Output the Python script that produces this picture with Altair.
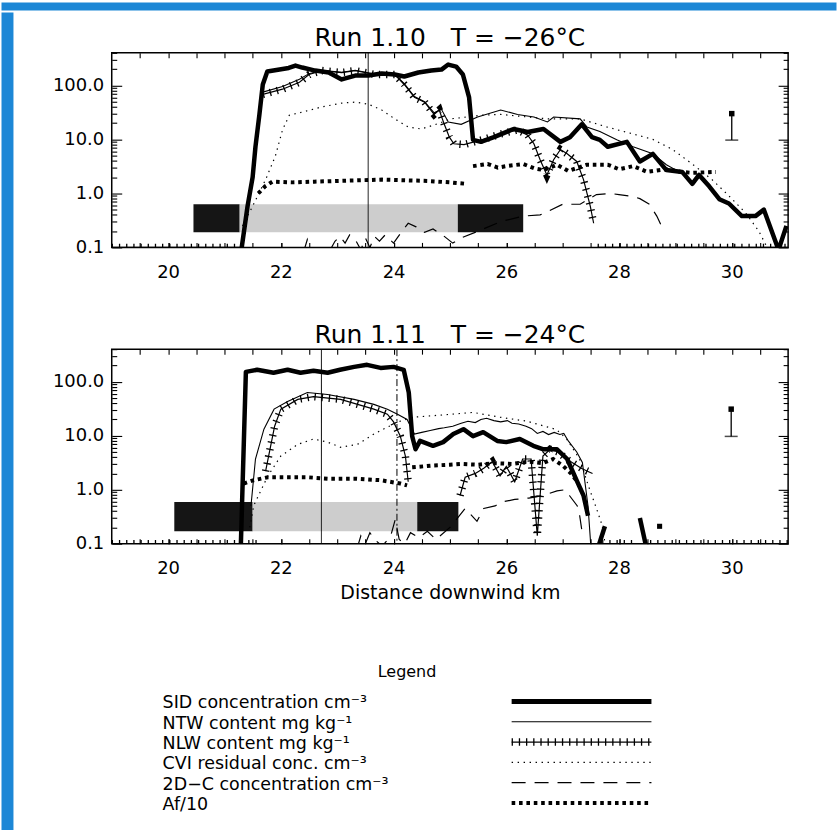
import altair as alt
import pandas as pd

FONT = "DejaVu Sans"
INK = "#000000"
BORDER_BLUE = "#1c87d6"
BOX_DARK = "#151515"
BOX_LIGHT = "#cdcdcd"

PLOT_W = 678
PLOT_H = 195

# layout gaps (pixels)
GAP_TOP = 12
GAP_MID = 37
GAP_LEGEND = 58
LEFT_GAP = 37
LEGEND_INDENT = 49

KM_RANGE = [19, 31]
CONC_RANGE = [0.1, 400]
KM_LABELS = [20, 22, 24, 26, 28, 30]
KM_TICKS = [19.5, 20.0, 20.5, 21.0, 21.5, 22.0, 22.5, 23.0, 23.5, 24.0, 24.5, 25.0,
            25.5, 26.0, 26.5, 27.0, 27.5, 28.0, 28.5, 29.0, 29.5, 30.0, 30.5]
DECADE_TICKS = [0.1, 1, 10, 100]
SUBDECADE_TICKS = [0.2, 0.3, 0.4, 0.5, 0.6, 0.7, 0.8, 0.9, 2, 3, 4, 5, 6, 7, 8, 9,
                   20, 30, 40, 50, 60, 70, 80, 90, 200, 300, 400]

# ---------------- Run 1.10, T = -26 C ----------------
R10_SID_X = [21.30, 21.41, 21.50, 21.55, 21.62, 21.68, 21.76, 22.14, 22.26, 22.38, 22.61, 22.85,
             23.08, 23.32, 23.55, 23.79, 24.02, 24.19, 24.44, 24.67, 24.85, 24.97, 25.11, 25.23,
             25.34, 25.41, 25.55, 25.78, 26.13, 26.38, 26.66, 26.96, 27.13, 27.34, 27.52, 27.66,
             27.80, 28.14, 28.37, 28.60, 28.84, 29.12, 29.30, 29.42, 29.60, 29.78, 29.95, 30.18,
             30.42, 30.57, 30.83, 30.97]
R10_SID = [0.09, 0.58, 2.0, 7.3, 29, 104, 181, 210, 233, 214, 188, 173,
           129, 152, 152, 166, 159, 146, 173, 188, 196, 243, 223, 159,
           60, 9.8, 9.0, 11, 15.6, 13.7, 15.6, 9.0, 11, 19, 11, 9.8,
           7.3, 9.0, 3.9, 5.4, 2.7, 2.5, 1.5, 2.2, 1.35, 0.78, 0.65, 0.38,
           0.38, 0.5, 0.09, 0.25]

R10_NTW_X = [21.68, 22.03, 22.33, 22.50, 22.73, 23.08, 23.32, 23.67, 24.02, 24.19, 24.37, 24.55,
             24.72, 24.85, 24.97, 25.20, 25.49, 25.90, 26.20, 26.49, 26.73, 26.84, 27.31, 27.43,
             27.66, 27.96, 28.25, 28.60, 28.84, 29.10, 29.30]
R10_NTW = [75, 95, 130, 165, 190, 175, 190, 162, 160, 108, 62, 50,
           31, 36, 21, 19, 26, 35, 29, 26, 21, 26, 24, 17,
           14, 9.8, 7.3, 5.4, 3.4, 2.4, 1.6]

R10_NLW_X = [21.68, 22.03, 22.33, 22.50, 22.73, 23.08, 23.32, 23.67, 24.02, 24.19, 24.37, 24.55,
             24.72, 24.81, 24.90, 24.99, 25.07, 25.25, 25.43, 25.60, 25.90, 26.20, 26.38, 26.49,
             26.60, 26.72, 26.84, 26.96, 27.08, 27.25, 27.37, 27.49, 27.55]
R10_NLW = [68, 85, 114, 159, 188, 173, 188, 159, 159, 104, 60, 49,
           29, 35, 19, 11, 8.3, 8.0, 9.0, 10, 12.6, 15, 12, 8.3,
           4.2, 2.2, 4.2, 6.5, 5.4, 3.9, 1.8, 0.58, 0.28]
# stretches where NLW sits below the axis floor
R10_NLW_FLOOR_FROM = [19.0, 27.62]
R10_NLW_FLOOR_TO = [21.35, 31.0]

R10_CVI_X = [21.32, 21.50, 21.73, 21.90, 22.03, 22.15, 22.38, 22.73, 23.08, 23.32, 23.55, 23.79,
             24.02, 24.26, 24.49, 24.72, 25.02, 25.55, 25.90, 26.38, 26.73, 27.31, 27.78, 28.25,
             28.60, 28.95, 29.30, 29.65, 29.95, 30.25, 30.48, 30.65]
R10_CVI = [0.25, 0.58, 1.8, 4.8, 15, 28, 32, 40, 47, 49, 45, 35,
           24, 17, 15.6, 18.5, 24, 28, 29, 26, 24, 24, 17, 12.6,
           10, 6.5, 3.5, 1.8, 0.9, 0.43, 0.2, 0.09]

R10_2DC_X = [22.40, 22.47, 22.55, 22.85, 22.96, 23.05, 23.14, 23.22, 23.32, 23.42, 23.50, 23.58,
             23.66, 23.75, 23.85, 24.00, 24.15, 24.26, 24.40, 24.55, 24.70, 24.90, 25.05, 25.20,
             25.50, 25.90, 26.30, 26.60, 26.73, 27.00, 27.31, 27.60, 27.84, 28.00, 28.25, 28.37,
             28.54, 28.67, 28.77]
R10_2DC = [0.08, 0.14, 0.08, 0.08, 0.13, 0.16, 0.12, 0.17, 0.14, 0.09, 0.15, 0.1,
           0.16, 0.13, 0.17, 0.12, 0.2, 0.28, 0.24, 0.19, 0.22, 0.16, 0.12, 0.15,
           0.2, 0.3, 0.38, 0.4, 0.46, 0.63, 0.63, 0.95, 1.0, 0.95, 0.88, 0.8,
           0.63, 0.38, 0.23]

R10_AF_A_X = [21.60, 21.72, 21.85, 22.2, 22.6, 23.0, 23.4, 23.8, 24.2, 24.6, 25.0, 25.3]
R10_AF_A = [1.0, 1.35, 1.65, 1.6, 1.65, 1.7, 1.75, 1.8, 1.75, 1.7, 1.6, 1.5]
R10_AF_B_X = [25.41, 25.67, 25.85, 26.0, 26.3, 26.5, 26.66, 26.9, 27.1, 27.43, 27.8, 28.0,
              28.25, 28.5, 28.84, 29.1, 29.3, 29.72]
R10_AF_B = [3.2, 3.5, 3.0, 3.2, 3.5, 2.9, 2.7, 3.4, 2.6, 3.4, 3.4, 2.8,
            3.2, 2.5, 2.8, 2.5, 2.4, 2.5]

R10_BOX_FROM = [20.45, 21.27, 25.14]
R10_BOX_TO = [21.27, 25.14, 26.30]
R10_BOX_SHADE = ["dark", "light", "dark"]
R10_BOX_LO = 0.19
R10_BOX_HI = 0.63

R10_MARKER_KM = [23.55]
R10_MARKER_STYLE = ["solid"]

R10_ERR_KM = [30.0]
R10_ERR_LO = [9.7]
R10_ERR_HI = [30]

# ---------------- Run 1.11, T = -24 C ----------------
R11_SID_X = [21.29, 21.38, 21.58, 21.87, 22.12, 22.35, 22.58, 22.83, 23.05, 23.30, 23.53, 23.77,
             24.00, 24.18, 24.27, 24.33, 24.39, 24.47, 24.70, 24.88, 25.06, 25.24, 25.41, 25.59,
             25.84, 26.00, 26.24, 26.48, 26.66, 26.90, 27.08, 27.26, 27.37, 27.45]
R11_SID = [0.09, 152, 166, 146, 166, 146, 159, 146, 166, 188, 205, 180,
           188, 166, 63, 9.8, 5.6, 8.0, 6.5, 7.6, 10.7, 13.2, 9.8, 11.6,
           8.0, 7.6, 8.7, 6.5, 5.6, 5.6, 3.7, 1.4, 0.78, 0.33]
R11_SID_TAIL1_X = [27.62, 27.75]
R11_SID_TAIL1 = [0.08, 0.21]
R11_SID_TAIL2_X = [28.37, 28.49]
R11_SID_TAIL2 = [0.30, 0.08]
R11_SID_DOT_X = [28.72]
R11_SID_DOT = [0.21]

R11_NTW_X = [21.47, 21.55, 21.70, 21.88, 22.12, 22.47, 22.83, 23.30, 23.65, 23.89, 24.07, 24.24,
             24.37, 24.50, 24.65, 24.80, 24.90, 25.05, 25.20, 25.32, 25.45, 25.55, 25.65, 25.78,
             25.90, 26.02, 26.10, 26.22, 26.35, 26.45, 26.55, 26.65, 26.75, 26.85, 26.95, 27.02,
             27.10, 27.25, 27.35, 27.45, 27.50]
R11_NTW = [0.5, 3.7, 13.2, 31, 43, 63, 58, 47, 38, 31, 25, 20,
           10.7, 11.5, 12.5, 13.5, 14, 15, 17, 18.5, 17.5, 20, 21, 19,
           18, 19, 17, 16.5, 15, 13.5, 11, 12, 10.5, 11.5, 10.5, 11,
           8, 5, 3.2, 0.5, 0.09]

R11_NLW_A_X = [21.73, 21.89, 22.00, 22.30, 22.58, 23.06, 23.65, 23.89, 24.00, 24.12, 24.21, 24.26]
R11_NLW_A = [2.2, 15, 31, 47, 53, 47, 31, 25, 18, 9.8, 4.2, 1.4]
R11_NLW_B_X = [25.18, 25.27, 25.45, 25.60, 25.75, 25.89, 26.00, 26.15, 26.29, 26.44, 26.55, 26.65,
               26.78, 26.92, 27.07, 27.21, 27.33, 27.44, 27.53]
R11_NLW_B = [0.78, 1.7, 2.0, 2.5, 3.3, 1.8, 2.7, 1.4, 3.7, 3.7, 0.14, 4.2,
             5.6, 5.0, 3.7, 3.0, 2.5, 2.2, 2.0]
R11_NLW_FLOOR_FROM = [19.0, 27.70, 28.55]
R11_NLW_FLOOR_TO = [21.62, 28.30, 31.0]

R11_CVI_X = [21.45, 21.52, 21.77, 22.00, 22.30, 22.58, 22.83, 23.06, 23.36, 23.65, 23.89, 24.12,
             24.35, 24.83, 25.41, 25.88, 26.36, 26.89, 27.07, 27.30, 27.48, 27.60, 27.70, 27.76]
R11_CVI = [0.2, 0.51, 1.8, 4.2, 6.9, 8.7, 7.6, 6.1, 6.9, 10.7, 14.4, 18.6,
           22, 24, 27, 22, 18.6, 13, 8.7, 3.7, 1.0, 0.45, 0.22, 0.09]

R11_2DC_X = [23.35, 23.42, 23.50, 23.58, 23.66, 23.80, 23.95, 24.03, 24.10, 24.20, 24.30, 24.45,
             24.60, 24.75, 25.00, 25.27, 25.48, 25.60, 25.80, 25.95, 26.15, 26.40, 26.65, 26.90,
             27.05, 27.12, 27.26, 27.30, 27.36]
R11_2DC = [0.08, 0.14, 0.1, 0.16, 0.12, 0.09, 0.14, 0.28, 0.12, 0.1, 0.16, 0.13,
           0.17, 0.12, 0.2, 0.45, 0.26, 0.45, 0.5, 0.6, 0.66, 0.7, 0.78, 0.95,
           1.0, 0.78, 0.5, 0.34, 0.13]

R11_AF_A_X = [21.34, 21.52, 21.77, 22.12, 22.47, 22.83, 23.30, 23.77, 24.12, 24.24]
R11_AF_A = [1.3, 1.5, 1.7, 1.7, 1.7, 1.6, 1.6, 1.5, 1.3, 1.2]
R11_AF_B_X = [24.33, 24.70, 25.00, 25.20, 25.50, 25.80, 26.10, 26.40, 26.65, 26.83, 27.00, 27.15, 27.26]
R11_AF_B = [2.6, 2.8, 2.9, 3.0, 2.9, 3.1, 3.0, 3.3, 3.1, 3.7, 2.8, 2.0, 1.4]

R11_BOX_FROM = [20.11, 21.50, 24.42]
R11_BOX_TO = [21.50, 24.42, 25.15]
R11_BOX_SHADE = ["dark", "light", "dark"]
R11_BOX_LO = 0.17
R11_BOX_HI = 0.59

R11_MARKER_KM = [22.72, 24.06]
R11_MARKER_STYLE = ["solid", "dashdot"]

R11_ERR_KM = [29.99]
R11_ERR_LO = [9.7]
R11_ERR_HI = [31]

LEGEND_LABELS = [
    "SID concentration cm\u207b\u00b3",
    "NTW content mg kg\u207b\u00b9",
    "NLW content mg kg\u207b\u00b9",
    "CVI residual conc. cm\u207b\u00b3",
    "2D\u2212C concentration cm\u207b\u00b3",
    "Af/10",
]
LEGEND_KEYS = ["sid", "ntw", "nlw", "cvi", "d2c", "af"]


def traces(*parts):
    rows = []
    for seg, (xs, ys) in enumerate(parts):
        rows += [{"km": x, "val": y, "seg": seg} for x, y in zip(xs, ys)]
    return pd.DataFrame(rows)


def floor_parts(starts, ends):
    return [([a, b], [CONC_RANGE[0], CONC_RANGE[0]]) for a, b in zip(starts, ends)]


def run_tables(p):
    g = globals()
    sid_parts = [(g[p + "_SID_X"], g[p + "_SID"])]
    if p + "_SID_TAIL1_X" in g:
        sid_parts += [(g[p + "_SID_TAIL1_X"], g[p + "_SID_TAIL1"]),
                      (g[p + "_SID_TAIL2_X"], g[p + "_SID_TAIL2"])]
    if p + "_NLW_X" in g:
        nlw_parts = [(g[p + "_NLW_X"], g[p + "_NLW"])]
    else:
        nlw_parts = [(g[p + "_NLW_A_X"], g[p + "_NLW_A"]), (g[p + "_NLW_B_X"], g[p + "_NLW_B"])]
    nlw_parts += floor_parts(g[p + "_NLW_FLOOR_FROM"], g[p + "_NLW_FLOOR_TO"])
    n_box = len(g[p + "_BOX_FROM"])
    return {
        "sid": traces(*sid_parts),
        "sid_dot": traces((g[p + "_SID_DOT_X"], g[p + "_SID_DOT"])) if p + "_SID_DOT_X" in g else None,
        "ntw": traces((g[p + "_NTW_X"], g[p + "_NTW"])),
        "nlw": traces(*nlw_parts),
        "cvi": traces((g[p + "_CVI_X"], g[p + "_CVI"])),
        "d2c": traces((g[p + "_2DC_X"], g[p + "_2DC"])),
        "af": traces((g[p + "_AF_A_X"], g[p + "_AF_A"]), (g[p + "_AF_B_X"], g[p + "_AF_B"])),
        "boxes": pd.DataFrame({
            "start": g[p + "_BOX_FROM"], "end": g[p + "_BOX_TO"], "shade": g[p + "_BOX_SHADE"],
            "lo": [g[p + "_BOX_LO"]] * n_box, "hi": [g[p + "_BOX_HI"]] * n_box,
        }),
        "marks": pd.DataFrame({"km": g[p + "_MARKER_KM"], "style": g[p + "_MARKER_STYLE"]}),
        "err": pd.DataFrame({"km": g[p + "_ERR_KM"], "lo": g[p + "_ERR_LO"], "hi": g[p + "_ERR_HI"]}),
    }


def conc_axis(orient, tick_len, values, labels):
    return alt.Axis(orient=orient, values=values, tickSize=tick_len, offset=-tick_len,
                    domain=False, grid=False, labels=labels, format=".1f",
                    labelFont=FONT, labelFontSize=18, labelColor=INK, labelPadding=8,
                    tickColor=INK, tickWidth=1.1)


def km_ticks_axis(orient):
    return alt.Axis(orient=orient, values=KM_TICKS, tickSize=5, offset=-5, domain=False,
                    grid=False, labels=False, tickColor=INK, tickWidth=1.1)


def km_label_axis():
    return alt.Axis(orient="bottom", values=KM_LABELS, tickSize=5, offset=-5, domain=False,
                    grid=False, format="d", labelFont=FONT, labelFontSize=18, labelColor=INK,
                    labelPadding=16, labelOverlap=False, labelFlush=False,
                    tickColor=INK, tickWidth=1.1,
                    titleFont=FONT, titleFontSize=19, titleFontWeight="normal",
                    titleColor=INK, titlePadding=6)


def panel(t, title, km_title=None):
    xs = alt.Scale(domain=KM_RANGE, nice=False, zero=False)
    ys = alt.Scale(type="log", domain=CONC_RANGE, nice=False)

    def X(field, axis=None, ttl=None):
        return alt.X(f"{field}:Q", scale=xs, axis=axis, title=ttl)

    def Y(field="val", axis=None):
        return alt.Y(f"{field}:Q", scale=ys, axis=axis, title=None)

    def line(df, x_axis=None, y_axis=None, **style):
        return alt.Chart(df).mark_line(clip=True, color=INK, **style).encode(
            x=X("km", x_axis), y=Y("val", y_axis), detail="seg:N")

    boxes = alt.Chart(t["boxes"]).mark_rect(clip=True).encode(
        x=X("start", km_label_axis(), km_title), x2="end",
        y=Y("lo", conc_axis("left", 10, DECADE_TICKS, True)), y2="hi",
        color=alt.Color("shade:N", scale=alt.Scale(domain=["dark", "light"],
                                                   range=[BOX_DARK, BOX_LIGHT]), legend=None))
    marks = alt.Chart(t["marks"]).mark_rule(color=INK, strokeWidth=1).encode(
        x=X("km"),
        strokeDash=alt.StrokeDash("style:N", scale=alt.Scale(domain=["solid", "dashdot"],
                                                             range=[[1, 0], [7, 3, 2, 3]]),
                                  legend=None))
    d2c = line(t["d2c"], x_axis=km_ticks_axis("bottom"), strokeWidth=1.2, strokeDash=[14, 9])
    cvi = line(t["cvi"], y_axis=conc_axis("right", 5, SUBDECADE_TICKS, False),
               strokeWidth=1.2, strokeDash=[1.4, 4.6])
    af = line(t["af"], y_axis=conc_axis("left", 5, SUBDECADE_TICKS, False),
              strokeWidth=4, strokeDash=[3.6, 3.8])
    nlw = line(t["nlw"], strokeWidth=1.2)
    nlw_hatch = line(t["nlw"], strokeWidth=7.5, strokeDash=[1.3, 5.9])
    ntw = line(t["ntw"], y_axis=conc_axis("right", 10, DECADE_TICKS, False), strokeWidth=1.1)
    sid = line(t["sid"], x_axis=km_ticks_axis("top"), strokeWidth=4.5, strokeJoin="round")

    err = alt.Chart(t["err"])
    err_bar = err.mark_rule(color=INK, strokeWidth=1.3).encode(x=X("km"), y=Y("lo"), y2="hi")
    err_cap = err.mark_tick(orient="horizontal", size=13, thickness=1.5, color=INK).encode(
        x=X("km"), y=Y("lo"))
    err_top = err.mark_square(size=30, filled=True, opacity=1, color=INK).encode(
        x=X("km"), y=Y("hi"))

    layers = [boxes, marks, d2c, cvi, af, nlw, nlw_hatch, ntw, sid]
    if t["sid_dot"] is not None:
        layers.append(alt.Chart(t["sid_dot"]).mark_square(size=26, filled=True, opacity=1,
                                                          color=INK).encode(x=X("km"), y=Y("val")))
    layers += [err_bar, err_cap, err_top]

    return alt.layer(*layers).resolve_axis(x="independent", y="independent").properties(
        width=PLOT_W, height=PLOT_H,
        title=alt.TitleParams(title, font=FONT, fontSize=25, fontWeight="normal",
                              color=INK, offset=1, anchor="middle"),
        view=alt.ViewBackground(fill="white", stroke=INK, strokeWidth=1.5),
    )


def blank(width, height, fill="transparent"):
    return (
        alt.Chart(pd.DataFrame({"z": [0]}))
        .mark_point(opacity=0)
        .encode(x=alt.X("z:Q", axis=None, scale=alt.Scale(domain=[-1, 1])),
                y=alt.Y("z:Q", axis=None, scale=alt.Scale(domain=[-1, 1])))
        .properties(width=width, height=height,
                    view=alt.ViewBackground(fill=fill, stroke="transparent"))
    )


def legend_chart():
    df = pd.DataFrame({"label": LEGEND_LABELS, "key": LEGEND_KEYS,
                       "text_at": 0.0, "x_from": 0.714, "x_to": 1.0})
    lx = alt.Scale(domain=[0, 1], nice=False, zero=False)
    ly = alt.Scale(type="point", domain=LEGEND_LABELS, padding=0.5)
    base = alt.Chart(df)
    text = base.mark_text(align="left", baseline="middle", font=FONT, fontSize=17.5,
                          color=INK, dy=2).encode(
        x=alt.X("text_at:Q", scale=lx, axis=None),
        y=alt.Y("label:N", scale=ly, axis=None),
        text="label:N")
    styles = [
        ("sid", dict(strokeWidth=5)),
        ("ntw", dict(strokeWidth=1.1)),
        ("nlw", dict(strokeWidth=1.2)),
        ("nlw", dict(strokeWidth=7.5, strokeDash=[1.3, 5.9])),
        ("cvi", dict(strokeWidth=1.2, strokeDash=[1.4, 4.6])),
        ("d2c", dict(strokeWidth=1.2, strokeDash=[14, 9])),
        ("af", dict(strokeWidth=4, strokeDash=[3.6, 3.8])),
    ]
    samples = [
        base.transform_filter(alt.datum.key == key).mark_rule(color=INK, **st).encode(
            x=alt.X("x_from:Q", scale=lx, axis=None), x2="x_to:Q",
            y=alt.Y("label:N", scale=ly, axis=None))
        for key, st in styles
    ]
    return alt.layer(text, *samples).properties(
        width=490, height=122,
        title=alt.TitleParams("Legend", font=FONT, fontSize=16, fontWeight="normal",
                              color=INK, offset=11, anchor="middle"),
        view=alt.ViewBackground(fill="transparent", stroke="transparent"),
    )


top_panel = panel(run_tables("R10"), "Run 1.10\u2003T = \u221226\u00b0C")
bottom_panel = panel(run_tables("R11"), "Run 1.11\u2003T = \u221224\u00b0C",
                     km_title="Distance downwind km")

column = alt.vconcat(
    blank(10, GAP_TOP),
    top_panel,
    blank(10, GAP_MID),
    bottom_panel,
    blank(10, GAP_LEGEND),
    alt.hconcat(blank(LEGEND_INDENT, 10), legend_chart(), spacing=0),
    spacing=0,
)

chart = alt.vconcat(
    blank(837, 8, BORDER_BLUE),
    alt.hconcat(blank(12, 822, BORDER_BLUE), column, spacing=LEFT_GAP),
    spacing=0,
).properties(padding=0, background="white")

chart.save("out.html", embed_options={"renderer": "svg", "actions": False})
